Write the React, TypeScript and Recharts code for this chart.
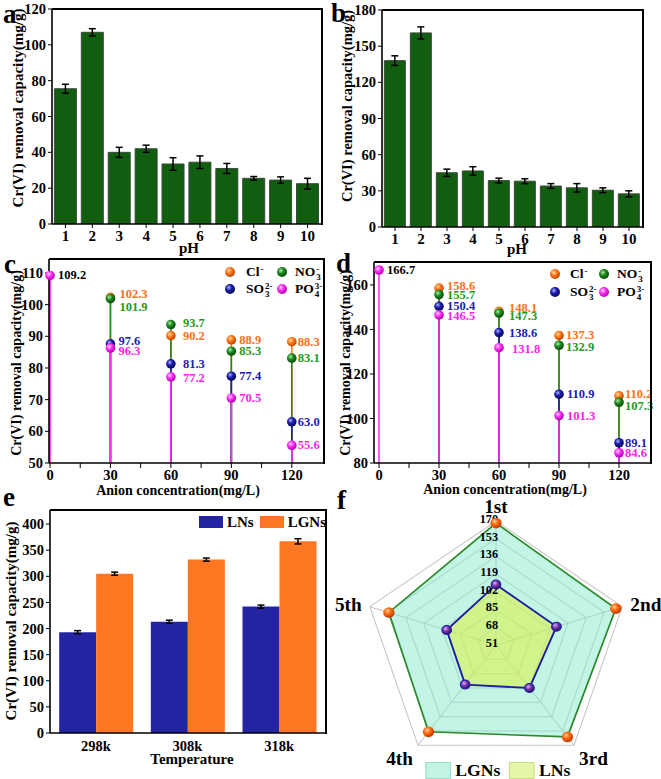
import React from "react";
import {
  Bar,
  BarChart,
  ErrorBar,
  Legend,
  PolarAngleAxis,
  PolarGrid,
  PolarRadiusAxis,
  Radar,
  RadarChart,
  Scatter,
  ScatterChart,
  XAxis,
  YAxis,
} from "recharts";

const FONT = '"Liberation Serif", "Times New Roman", serif';
const INK = "#000";

// a, b: effect of pH
const PH = ["1", "2", "3", "4", "5", "6", "7", "8", "9", "10"];
const A_CAP = [75.5, 107, 40, 42, 33.5, 34.5, 31, 25.5, 24.5, 22.5];
const A_ERR = [2.5, 2, 2.8, 2, 3.5, 3.5, 2.8, 1, 1.8, 3];
const A_TICKS = [0, 20, 40, 60, 80, 100, 120];
const B_CAP = [138, 161, 45, 46.5, 38.5, 38, 34, 32.5, 30.5, 27.5];
const B_ERR = [4, 5, 3, 3.5, 2, 2, 2, 3.5, 2, 2.5];
const B_TICKS = [0, 30, 60, 90, 120, 150, 180];

// c, d: coexisting anions (plotted positions; printed labels differ at two points in c)
const CONC = [30, 60, 90, 120];
const CONC_TICKS = [0, 15, 30, 45, 60, 75, 90, 105, 120];
const C_BLANK = 109.2;
const C_CL = [102.3, 90.2, 88.9, 88.3];
const C_NO3 = [101.9, 93.7, 85.3, 83.1];
const C_SO3 = [87.6, 81.3, 77.4, 63.0];
const C_PO4 = [86.3, 77.2, 70.5, 55.6];
const C_PRINTED: Record<string, string> = { so330: "97.6", po430: "96.3" };
const C_TICKS = [50, 60, 70, 80, 90, 100, 110];
const D_BLANK = 166.7;
const D_CL = [158.6, 148.1, 137.3, 110.2];
const D_NO3 = [155.7, 147.3, 132.9, 107.3];
const D_SO3 = [150.4, 138.6, 110.9, 89.1];
const D_PO4 = [146.5, 131.8, 101.3, 84.6];
const D_TICKS = [80, 100, 120, 140, 160];

// e: temperature
const TEMPS = ["298k", "308k", "318k"];
const E_LNS = [193, 213, 242];
const E_LNS_ERR = [3, 3, 3];
const E_LGNS = [305, 332, 367];
const E_LGNS_ERR = [3, 3, 5];
const E_TICKS = [0, 50, 100, 150, 200, 250, 300, 350, 400];

// f: reuse cycles
const CYCLES = ["1st", "2nd", "3rd", "4th", "5th"];
const F_LGNS = [168, 164, 160, 154, 152];
const F_LNS = [109, 108, 102, 98, 97.5];
const F_TICKS = [51, 68, 85, 102, 119, 136, 153, 170];

const Y_TITLE = "Cr(VI) removal capacity(mg/g)";

const BALLS: Record<string, [string, string, string]> = {
  cl: ["#ffd9b0", "#ff7a1a", "#c04400"],
  no3: ["#b0e8b0", "#1c8c1c", "#0a4a0a"],
  so3: ["#b0b0ff", "#1c1cb0", "#0a0a50"],
  po4: ["#ffd0ff", "#ff30f5", "#b000b0"],
  rad1: ["#ffd0a0", "#ff6a10", "#c03c00"],
  rad2: ["#d8b0ff", "#7a3ab0", "#300a60"],
};
const LINE = { cl: "#ff7a1a", no3: "#1c8c1c", so3: "#1c1cb0", po4: "#ff30f5" };
const TXT = { cl: "#ff6f1a", no3: "#1f991f", so3: "#1c1cb0", po4: "#ff22ee" };

const axisLine = { stroke: INK, strokeWidth: 1.6 };
const tickStyle = { fill: INK, fontSize: 14.5, fontWeight: 700 };

function BallDefs({ s }: { s: string }) {
  return (
    <defs>
      {Object.entries(BALLS).map(([k, [a, b, c]]) => (
        <radialGradient key={k} id={`ball-${k}-${s}`} cx="38%" cy="35%" r="65%">
          <stop offset="0%" stopColor={a} />
          <stop offset="45%" stopColor={b} />
          <stop offset="100%" stopColor={c} />
        </radialGradient>
      ))}
    </defs>
  );
}

const fixedText = (text: string, x: number, y: number, size: number, rotate = false) => () => (
  <text x={x} y={y} transform={rotate ? `rotate(-90 ${x} ${y})` : undefined} textAnchor="middle"
    dominantBaseline="central" fontSize={size} fontWeight={700} fill={INK}>
    {text}
  </text>
);

function PhPanel(props: {
  values: number[];
  errs: number[];
  ticks: number[];
  width: number;
  margin: any;
  yWidth: number;
  xH: number;
  yLab: [number, number, number];
  xLab: [number, number];
}) {
  const data = PH.map((p, i) => ({ ph: p, v: props.values[i], e: props.errs[i] }));
  const top = props.ticks[props.ticks.length - 1];
  return (
    <BarChart width={props.width} height={262} data={data} margin={props.margin} barCategoryGap="9%">
      <XAxis dataKey="ph" interval={0} tick={{ ...tickStyle, fontSize: 15 }} tickSize={4} tickLine={{ stroke: INK }}
        axisLine={axisLine} height={props.xH} label={fixedText("pH", props.xLab[0], props.xLab[1], 15)} />
      <YAxis domain={[0, top]} ticks={props.ticks} interval={0} allowDataOverflow width={props.yWidth} tick={tickStyle}
        tickSize={4} tickLine={{ stroke: INK }} axisLine={axisLine}
        label={fixedText(Y_TITLE, props.yLab[0], props.yLab[1], props.yLab[2], true)} />
      <Bar dataKey="v" fill="#115e11" stroke="#3a4a3a" strokeWidth={1} isAnimationActive={false}>
        <ErrorBar dataKey="e" direction="y" width={3.5} stroke={INK} strokeWidth={1.5} isAnimationActive={false} />
      </Bar>
    </BarChart>
  );
}

type Nudge = Record<string, [number, number]>;

const NUDGE_C: Nudge = {
  cl30: [9, -3], no330: [9, 8], so330: [8, -3], po430: [8, 3],
  cl60: [12, 0], no360: [12, -2], so360: [12, 0], po460: [12, 1],
  cl120: [6, 0], no3120: [6, 0], so3120: [6, 0], po4120: [6, 0],
};
const NUDGE_D: Nudge = {
  cl30: [8, -2], no330: [8, 1], so330: [8, 0], po430: [8, 1],
  cl60: [10, -3], no360: [10, 3], so360: [10, 0], po460: [13, 1],
  cl90: [7, 0], no390: [7, 2], so390: [8, 0], po490: [8, 0],
  cl120: [6, -2], no3120: [6, 4], so3120: [6, 0], po4120: [6, 0],
};

function Ion({ base, sub, sup }: { base: string; sub?: string; sup?: string }) {
  return (
    <span style={{ whiteSpace: "nowrap" }}>
      {base}
      <span style={{ display: "inline-flex", flexDirection: "column", fontSize: 9, lineHeight: "8px",
        verticalAlign: "middle", marginLeft: 1 }}>
        <span>{sup ?? "\u00a0"}</span>
        <span>{sub ?? "\u00a0"}</span>
      </span>
    </span>
  );
}

function AnionLegend({ s, xs, ys }: { s: string; xs: [number, number, number, number]; ys: [number, number] }) {
  const items: [string, React.ReactNode, number, number][] = [
    ["cl", <Ion base="Cl" sup="-" />, 0, 0],
    ["no3", <Ion base="NO" sub="3" sup="-" />, 1, 0],
    ["so3", <Ion base="SO" sub="3" sup="2-" />, 0, 1],
    ["po4", <Ion base="PO" sub="4" sup="3-" />, 1, 1],
  ];
  return (
    <div style={{ position: "relative", width: 110, height: 44, fontFamily: FONT, fontWeight: 700, fontSize: 13.5 }}>
      {items.map(([k, label, col, row]) => (
        <React.Fragment key={k}>
          <svg width={12} height={12} style={{ position: "absolute", left: xs[col * 2] - 6, top: ys[row] - 6 }}>
            <circle cx={6} cy={6} r={5} fill={`url(#ball-${k}-${s})`} />
          </svg>
          <span style={{ position: "absolute", left: xs[col * 2 + 1], top: ys[row] - 9, lineHeight: "18px",
            whiteSpace: "nowrap", color: INK }}>
            {label}
          </span>
        </React.Fragment>
      ))}
    </div>
  );
}

function AnionPanel(props: {
  s: string;
  blank: number;
  series: Record<string, number[]>;
  printed?: Record<string, string>;
  yDomain: [number, number];
  yTicks: number[];
  xDomain: [number, number];
  width: number;
  margin: any;
  yWidth: number;
  nudge: Nudge;
  yLab: [number, number];
  xLab: [number, number];
  labelSize: number;
  legend: { left: number; top: number; xs: [number, number, number, number]; ys: [number, number] };
}) {
  const base = props.yDomain[0];
  const keys = ["cl", "no3", "so3", "po4"] as const;
  const mk = (vals: number[]) => CONC.map((x, i) => ({ x, y: vals[i], err: [vals[i] - base, 0] }));
  const blankData = [{ x: 0, y: props.blank, err: [props.blank - base, 0] }];
  const shape = (k: string, textColor: string) => (p: any) => {
    const id = `${k}${p.payload.x}`;
    const [dx, dy] = props.nudge[id] ?? [8, 0];
    const txt = (textColor !== INK && props.printed?.[id]) || p.payload.y.toFixed(1);
    return (
      <g>
        <circle cx={p.cx} cy={p.cy} r={4.8} fill={`url(#ball-${k}-${props.s})`} />
        <text x={p.cx + dx} y={p.cy + dy} dominantBaseline="central" fontSize={props.labelSize} fontWeight={700}
          fill={textColor}>
          {txt}
        </text>
      </g>
    );
  };
  return (
    <ScatterChart width={props.width} height={245} margin={props.margin}>
      <BallDefs s={props.s} />
      <XAxis type="number" dataKey="x" domain={props.xDomain} ticks={CONC_TICKS} interval={0}
        tickFormatter={(v: number) => (v % 30 === 0 ? String(v) : "")} tick={tickStyle} tickSize={5}
        tickLine={{ stroke: INK }} axisLine={axisLine} height={37}
        label={fixedText("Anion concentration(mg/L)", props.xLab[0], props.xLab[1], 14)} />
      <YAxis type="number" dataKey="y" domain={props.yDomain} ticks={props.yTicks} interval={0}
        width={props.yWidth} tick={tickStyle} tickSize={4} tickLine={{ stroke: INK }} axisLine={axisLine}
        label={fixedText(Y_TITLE, props.yLab[0], props.yLab[1], 14, true)} />
      {keys.map((k) => (
        <Scatter key={`stem-${k}`} data={mk(props.series[k])} shape={() => <g />} isAnimationActive={false}>
          <ErrorBar dataKey="err" direction="y" width={0} stroke={LINE[k]} strokeWidth={1.6} isAnimationActive={false} />
        </Scatter>
      ))}
      <Scatter data={blankData} shape={() => <g />} isAnimationActive={false}>
        <ErrorBar dataKey="err" direction="y" width={0} stroke={LINE.po4} strokeWidth={1.6} isAnimationActive={false} />
      </Scatter>
      {keys.map((k) => (
        <Scatter key={`pt-${k}`} data={mk(props.series[k])} shape={shape(k, TXT[k])} isAnimationActive={false} />
      ))}
      <Scatter data={blankData} shape={shape("po4", INK)} isAnimationActive={false} />
      <Legend layout="vertical" align="center" verticalAlign="middle"
        wrapperStyle={{ left: props.legend.left, top: props.legend.top, width: 110 }}
        content={() => <AnionLegend s={props.s} xs={props.legend.xs} ys={props.legend.ys} />} />
    </ScatterChart>
  );
}

function TempLegend() {
  const sw = (c: string) => ({ display: "inline-block", width: 24, height: 12, background: c, marginRight: 4 });
  return (
    <div style={{ fontFamily: FONT, fontWeight: 700, fontSize: 15, color: INK, display: "flex", alignItems: "center",
      whiteSpace: "nowrap", lineHeight: "16px" }}>
      <span style={sw("#2424a2")} />
      <span style={{ marginRight: 6 }}>LNs</span>
      <span style={sw("#ff7722")} />
      <span>LGNs</span>
    </div>
  );
}

function TempPanel() {
  const data = TEMPS.map((t, i) => ({
    t, lns: E_LNS[i], lnsErr: E_LNS_ERR[i], lgns: E_LGNS[i], lgnsErr: E_LGNS_ERR[i],
  }));
  return (
    <BarChart width={330} height={274} data={data} margin={{ top: 5, right: 5, left: 0, bottom: 0 }}
      barCategoryGap="10%" barGap={0}>
      <XAxis dataKey="t" tick={tickStyle} tickSize={6} tickLine={false} axisLine={axisLine} height={46}
        label={fixedText("Temperature", 192, 254, 15)} />
      <YAxis domain={[0, 427]} allowDataOverflow ticks={E_TICKS} interval={0} width={50} tick={tickStyle} tickSize={4}
        tickLine={{ stroke: INK }} axisLine={axisLine} label={fixedText(Y_TITLE, 11, 116, 15, true)} />
      <Bar dataKey="lns" fill="#2424a2" isAnimationActive={false}>
        <ErrorBar dataKey="lnsErr" direction="y" width={3.5} stroke={INK} strokeWidth={1.5} isAnimationActive={false} />
      </Bar>
      <Bar dataKey="lgns" fill="#ff7722" isAnimationActive={false}>
        <ErrorBar dataKey="lgnsErr" direction="y" width={3.5} stroke={INK} strokeWidth={1.5} isAnimationActive={false} />
      </Bar>
      <Legend layout="vertical" align="center" verticalAlign="middle" wrapperStyle={{ left: 199, top: 9 }}
        content={() => <TempLegend />} />
    </BarChart>
  );
}

function RadarLegend() {
  const sw = (c: string, b: string) => ({ display: "inline-block", width: 24, height: 17, background: c,
    border: `1px solid ${b}`, marginRight: 4, boxSizing: "border-box" as const });
  return (
    <div style={{ fontFamily: FONT, fontWeight: 700, fontSize: 16.5, color: INK, display: "flex", alignItems: "center",
      whiteSpace: "nowrap", lineHeight: "17px" }}>
      <span style={sw("#c2f4e6", "#9fdcc8")} />
      <span style={{ marginRight: 8 }}>LGNs</span>
      <span style={sw("#e6f6a8", "#c8dc88")} />
      <span>LNs</span>
    </div>
  );
}

function RadiusTick(p: any) {
  return (
    <text x={p.x + 2} y={p.y - 2} textAnchor="end" dominantBaseline="central" fontSize={11.5} fontWeight={700} fill={INK}>
      {p.payload.value}
    </text>
  );
}

function CyclePanel() {
  const data = CYCLES.map((c, i) => ({ cycle: c, lgns: F_LGNS[i], lns: F_LNS[i] }));
  return (
    <RadarChart width={331} height={279} cx={166} cy={145} outerRadius={124} data={data}
      margin={{ top: 0, right: 0, bottom: 0, left: 0 }}>
      <BallDefs s="f" />
      <PolarGrid gridType="polygon" stroke="#c4c4c4" strokeWidth={1} />
      <PolarAngleAxis dataKey="cycle" tick={{ fill: INK, fontSize: 18, fontWeight: 700 }} tickLine={false} />
      <Radar dataKey="lgns" stroke="#2a8a2a" strokeWidth={1.6} fill="#86ebcd" fillOpacity={0.5} isAnimationActive={false}
        dot={(p: any) => <circle key={`o${p.index}`} cx={p.cx} cy={p.cy} r={5.3} fill="url(#ball-rad1-f)" />} />
      <Radar dataKey="lns" stroke="#1e1e9c" strokeWidth={1.8} fill="#dcf040" fillOpacity={0.55} isAnimationActive={false}
        dot={(p: any) => <circle key={`p${p.index}`} cx={p.cx} cy={p.cy} r={4.5} fill="url(#ball-rad2-f)" stroke="#1e1e9c" strokeWidth={1} />} />
      <PolarRadiusAxis angle={90} domain={[51, 170]} ticks={F_TICKS as any} tickCount={8} allowDataOverflow
        axisLine={false} tickLine={false} tick={RadiusTick} />
      <Legend layout="vertical" align="center" verticalAlign="middle" wrapperStyle={{ left: 100, top: 262 }}
        content={() => <RadarLegend />} />
    </RadarChart>
  );
}

// panel letters and the top/right edges of each plot frame (page layout, not data)
const LETTERS: [string, number, number][] = [
  ["a", 3, 23], ["b", 331, 22], ["c", 4, 273], ["d", 336, 272], ["e", 3, 506], ["f", 337, 509],
];
const FRAMES: [number, number, number, number][] = [
  [52, 9, 321, 224], [382, 10, 642, 227], [49, 259, 323, 463], [374, 262, 650, 463], [50, 510, 325, 733],
];

function Overlay() {
  return (
    <>
      {FRAMES.map(([l, t, r, b], i) => (
        <div key={i} style={{ position: "absolute", left: l, top: t - 1, width: r - l, height: b - t,
          borderTop: `2px solid ${INK}`, borderRight: `2px solid ${INK}`, pointerEvents: "none" }} />
      ))}
      <svg width={661} height={779} style={{ position: "absolute", left: 0, top: 0, pointerEvents: "none" }}>
        {LETTERS.map(([t, x, y]) => (
          <text key={t} x={x} y={y} fontSize={27} fontWeight={700} fill={INK} fontFamily={FONT}>
            {t}
          </text>
        ))}
      </svg>
    </>
  );
}

export default function App() {
  const box = (left: number, top: number): React.CSSProperties => ({ position: "absolute", left, top });
  return (
    <div style={{ position: "absolute", left: 0, top: 0, width: 661, height: 779, background: "#fff",
      fontFamily: FONT, fontWeight: 700, overflow: "hidden" }}>
      <div style={box(0, 0)}>
        <PhPanel values={A_CAP} errs={A_ERR} ticks={A_TICKS} width={330} yWidth={52} xH={38}
          margin={{ top: 9, right: 9, left: 0, bottom: 0 }} yLab={[18, 108, 15]} xLab={[189, 248]} />
      </div>
      <div style={box(330, 0)}>
        <PhPanel values={B_CAP} errs={B_ERR} ticks={B_TICKS} width={331} yWidth={52} xH={35}
          margin={{ top: 10, right: 19, left: 0, bottom: 0 }} yLab={[17, 106, 14.5]} xLab={[187, 249]} />
      </div>
      <div style={box(0, 255)}>
        <AnionPanel s="c" blank={C_BLANK} series={{ cl: C_CL, no3: C_NO3, so3: C_SO3, po4: C_PO4 }}
          printed={C_PRINTED} yDomain={[50, 114.4]} yTicks={C_TICKS} xDomain={[-0.5, 135.5]} width={330}
          margin={{ top: 4, right: 7, left: 0, bottom: 0 }} yWidth={49} nudge={NUDGE_C} yLab={[16, 108]}
          xLab={[178, 235]} labelSize={12.5}
          legend={{ left: 220, top: 6, xs: [10, 26, 62, 75], ys: [11, 28] }} />
      </div>
      <div style={box(330, 255)}>
        <AnionPanel s="d" blank={D_BLANK} series={{ cl: D_CL, no3: D_NO3, so3: D_SO3, po4: D_PO4 }}
          yDomain={[80, 170.3]} yTicks={D_TICKS} xDomain={[-2.5, 135.5]} width={331}
          margin={{ top: 7, right: 11, left: 0, bottom: 0 }} yWidth={44} nudge={NUDGE_D} yLab={[15, 108]}
          xLab={[175, 234]} labelSize={12.5}
          legend={{ left: 215, top: 8, xs: [10, 25, 59, 72], ys: [11, 29] }} />
      </div>
      <div style={box(0, 505)}>
        <TempPanel />
      </div>
      <div style={{ ...box(330, 500), transform: "scaleX(1.07)", transformOrigin: "166px 0" }}>
        <CyclePanel />
      </div>
      <Overlay />
    </div>
  );
}
